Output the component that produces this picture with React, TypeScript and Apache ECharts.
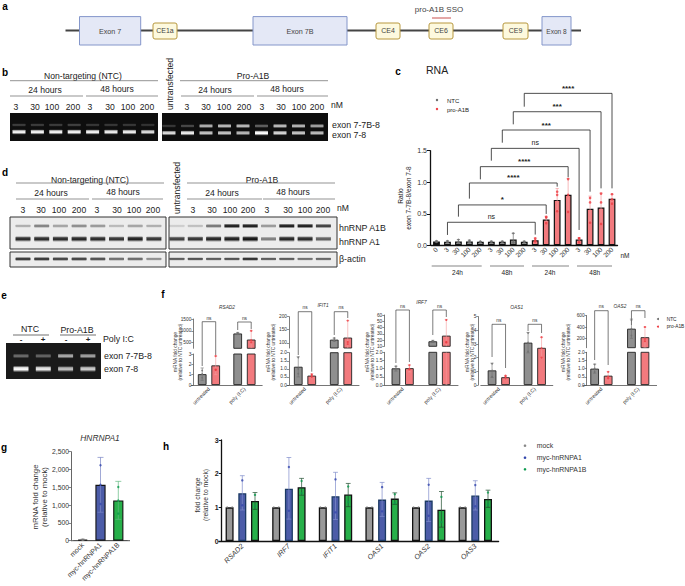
import React, { useEffect, useRef } from "react";
import * as echarts from "echarts";

const FONT = "'Liberation Sans', Arial, sans-serif";
const GRAY = "#8f8f8f", RED = "#f27a7e", REDDOT = "#ee3a40", REDERR = "#f49a9c", GRAYDOT = "#6f6f6f";
const BLUE = "#4c5ca8", GREEN = "#27b04a", BLUEDOT = "#3346ac", GREENDOT = "#0b9a4e";

/* ---------- panel b / d / e lanes ---------- */
const gelB1Upper = [0.2, 0.2, 0.2, 0.22, 0.18, 0.18, 0.18, 0.16];
const gelB1Lower = [0.95, 0.95, 0.95, 0.95, 0.95, 0.92, 0.92, 0.85];
const gelB2Upper = [0.18, 0.25, 0.68, 0.72, 0.72, 0.35, 0.72, 0.7, 0.62];
const gelB2Lower = [0.85, 0.92, 0.75, 0.75, 0.7, 1, 0.82, 0.75, 0.72];
const blotNtcA1B = [0.3, 0.5, 0.35, 0.45, 0.4, 0.25, 0.35, 0.3];
const blotNtcA1 = [0.9, 0.9, 0.9, 0.92, 0.9, 0.85, 0.95, 0.85];
const blotNtcActin = [0.85, 0.85, 0.8, 0.8, 0.75, 0.6, 0.62, 0.45];
const blotProA1B = [0.15, 0.22, 0.55, 0.95, 0.95, 0.4, 0.95, 0.95, 0.8];
const blotProA1 = [0.8, 0.85, 0.92, 0.95, 1, 0.5, 0.92, 0.9, 0.65];
const blotProActin = [0.7, 0.75, 0.7, 0.75, 0.9, 0.7, 0.7, 0.6, 0.65];
const gelEUpper = [0.35, 0.32, 0.62, 0.58];
const gelELower = [0.98, 0.9, 0.72, 0.78];

/* ---------- panel c ---------- */
const cCats = ["0", "3", "30", "100", "200", "3", "30", "100", "200", "3", "30", "100", "200", "3", "30", "100", "200"];
const cValues = [0.06, 0.055, 0.06, 0.06, 0.055, 0.055, 0.055, 0.09, 0.055, 0.08, 0.41, 0.72, 0.8, 0.09, 0.58, 0.6, 0.74];
const cHi = [0.07, 0.07, 0.09, 0.08, 0.06, 0.065, 0.065, 0.19, 0.065, 0.115, 0.46, 0.9, 1.06, 0.12, 0.78, 0.83, 0.81];
const cLo = [0.05, 0.045, 0.04, 0.045, 0.05, 0.05, 0.05, 0.04, 0.05, 0.05, 0.35, 0.55, 0.53, 0.05, 0.37, 0.35, 0.66];
const cPoints = [
  [0.06, 0.07, 0.05], [0.05, 0.06, 0.07], [0.09, 0.05, 0.04], [0.08, 0.05, 0.05], [0.05, 0.06, 0.06],
  [0.05, 0.06, 0.06], [0.05, 0.06, 0.06], [0.19, 0.05, 0.04], [0.05, 0.06, 0.06], [0.11, 0.08, 0.06],
  [0.45, 0.44, 0.35], [0.85, 0.8, 0.54], [1.05, 0.8, 0.53], [0.11, 0.11, 0.05], [0.75, 0.68, 0.36],
  [0.82, 0.68, 0.34], [0.81, 0.73, 0.66],
];
const cSigLabels = ["ns", "*", "****", "****", "ns", "***", "***", "****"];
const cBrackets = [
  [1, 9, 0.365, 0.164, 0.17], [2, 10, 0.64, 0.454, 0.497], [3, 11, 0.988, 0.74, 0.93], [4, 12, 1.247, 1.046, 1.078],
  [5, 13, 1.537, 1.342, 0.243], [6, 14, 1.828, 1.627, 0.85], [7, 15, 2.118, 1.918, 0.903], [8, 16, 2.409, 2.198, 0.903],
];

/* ---------- panel f (untreated, poly I:C) ---------- */
const fCats = ["untreated", "poly (I:C)"];
const fGenes = ["RSAD2", "IFIT1", "IRF7", "OAS1", "OAS2"];
const fNtc = [[1.05, 886], [1.13, 112], [1.02, 18], [1.07, 3.1], [1.0, 370]];
const fPro = [[1.9, 628], [0.58, 120], [1.03, 27], [0.57, 2.72], [0.57, 220]];
const fNtcHi = [[1.65, 930], [1.75, 118], [1.15, 19.5], [1.6, 3.85], [1.28, 540]];
const fProHi = [[2.8, 1000], [0.7, 185], [1.25, 53], [0.7, 3.5], [0.82, 400]];
const fNtcLo = [[0.45, 840], [0.5, 105], [0.85, 16], [0.55, 2.35], [0.72, 200]];
const fProLo = [[1.0, 260], [0.46, 55], [0.8, 0], [0.44, 1.95], [0.32, 40]];
const fNtcPts = [
  [[0.7, 1.05, 1.4], [920, 880, 860]], [[1.7, 1.0, 0.7], [118, 110, 108]], [[1.15, 1.0, 0.95], [19, 18, 17]],
  [[1.55, 1.05, 0.6], [3.8, 3.1, 2.45]], [[1.25, 1.0, 0.8], [520, 370, 250]],
];
const fProPts = [
  [[2.8, 1.5, 1.45], [1000, 600, 510]], [[0.66, 0.6, 0.5], [185, 103, 95]], [[1.2, 1.0, 0.95], [52, 16, 17]],
  [[0.68, 0.6, 0.48], [3.5, 2.7, 2.0]], [[0.8, 0.5, 0.4], [400, 190, 150]],
];
const fLowTicks = [[0, 1, 2, 3], [0, 0.5, 1, 1.5, 2], [0, 0.5, 1, 1.5, 2], [0, 1, 2, 3, 4, 5], [0, 0.5, 1, 1.5, 2]];
const fLowLabels = [["0", "1", "2", "3"], ["0.0", "0.5", "1.0", "1.5", "2.0"], ["0.0", "0.5", "1.0", "1.5", "2.0"], ["0", "1", "2", "3", "4", "5"], ["0.0", "0.5", "1.0", "1.5", "2.0"]];
const fHighTicks = [[500, 1000, 1500], [100, 150, 200], [10, 20, 30, 40, 50, 60], [], [200, 400, 600]];

/* ---------- panel g ---------- */
const gCats = ["mock", "myc-hnRNPA1", "myc-hnRNPA1B"];
const gValues = [30, 1570, 1130];
const gHi = [45, 2340, 1667];
const gLo = [15, 800, 600];
const gPoints = [[25, 35, 20], [2120, 1030, 1570], [1510, 760, 1130]];

/* ---------- panel h ---------- */
const hCats = ["RSAD2", "IRF7", "IFIT1", "OAS1", "OAS2", "OAS3"];
const hMock = [1, 1, 1, 1, 1, 1];
const hA1 = [1.42, 1.55, 1.33, 1.23, 1.2, 1.35];
const hA1B = [1.19, 1.6, 1.38, 1.26, 0.93, 1.25];
const hA1Hi = [1.94, 2.48, 2.04, 1.74, 1.86, 1.79];
const hA1Lo = [0.92, 0.65, 0.64, 0.73, 0.58, 0.92];
const hA1BHi = [1.44, 1.86, 1.71, 1.43, 1.47, 1.51];
const hA1BLo = [0.94, 1.36, 1.02, 1.09, 0.41, 1.0];
const hA1Pts = [[1.8, 1.06], [2.2, 0.9], [1.83, 0.85], [1.6, 0.88], [1.67, 0.75], [1.66, 1.03]];
const hA1BPts = [[1.37, 1.03], [1.78, 1.42], [1.62, 1.16], [1.39, 1.13], [1.31, 0.56], [1.44, 1.08]];

/* ---------- layout (pixels) ---------- */
const fLayout = [
  { left: 191.2, width: 71, axisX: 193.3, lowTop: 354, lowMax: 3, highTop: 319, highBottom: 348.3, highMin: 257, highMax: 1500, yl: 175.5, titleX: 227, titleY: 307.5, nsY: 318, br: [[321.7, 366, 355], [322, 330, 329]] },
  { left: 287, width: 72, axisX: 289, lowTop: 352.7, lowMax: 2, highTop: 316.7, highBottom: 348, highMin: 80, highMax: 200, yl: 268.5, titleX: 323, titleY: 305.5, nsY: 307.7, br: [[311.7, 355, 371.7], [311.7, 335, 318]] },
  { left: 384.2, width: 73.8, axisX: 384.3, lowTop: 352.3, lowMax: 2, highTop: 315, highBottom: 346.3, highMin: 10, highMax: 60, yl: 367.5, titleX: 421.5, titleY: 302, nsY: 306, br: [[310, 363, 362], [310, 335, 317]] },
  { left: 480.8, width: 72, axisX: 478.3, lowTop: 316.7, lowMax: 5, highTop: 0, highBottom: 0, highMin: 0, highMax: 0, yl: 467.5, titleX: 516.7, titleY: 307.5, nsY: 320, br: [[324.3, 357, 368], [324.3, 331, 333]] },
  { left: 583, width: 73.6, axisX: 586.7, lowTop: 352.3, lowMax: 2, highTop: 315.7, highBottom: 347.7, highMin: 34, highMax: 600, yl: 563.5, titleX: 620, titleY: 306, nsY: 306.7, br: [[310.7, 360, 365], [310.7, 325, 318]] },
];
const F_BOTTOM = 385;

export default function App() {
  const ref = useRef<HTMLDivElement>(null);
  useEffect(() => {
    const chart = echarts.init(ref.current!, undefined, { renderer: "svg" });
    const grid: any[] = [], xAxis: any[] = [], yAxis: any[] = [], series: any[] = [], g: any[] = [];

    const txt = (text: string, x: number, y: number, size: number, o: any = {}) => g.push({
      type: "text", x, y, rotation: o.rot || 0, silent: true,
      style: { text, fontFamily: FONT, fontSize: size, fontWeight: o.weight || "normal", fontStyle: o.italic ? "italic" : "normal", fill: o.fill || "#222", align: o.align || "center", verticalAlign: "middle" },
    });
    const hline = (x1: number, x2: number, y: number, color = "#555", lw = 0.8) => g.push({ type: "line", silent: true, shape: { x1, y1: y, x2, y2: y }, style: { stroke: color, lineWidth: lw } });
    const poly = (pts: number[][], color = "#222", lw = 0.8) => g.push({ type: "polyline", silent: true, shape: { points: pts }, style: { stroke: color, lineWidth: lw, fill: "none" } });

    /* lanes drawn through the library's scales */
    const addGel = (box: number[], laneStart: number, laneStep: number, rows: { pos: number; vals: number[]; h: number }[], color: string, bandW: number, bg: string, border: boolean) => {
      const [l, t, r, b] = box;
      const idx = grid.length;
      grid.push({ left: l, top: t, width: r - l, height: b - t, show: true, backgroundColor: bg, borderColor: "#333", borderWidth: border ? 1 : 0 });
      xAxis.push({ type: "value", gridIndex: idx, show: false, min: (l - laneStart) / laneStep, max: (r - laneStart) / laneStep, splitLine: { show: false } });
      yAxis.push({ type: "value", gridIndex: idx, show: false, inverse: true, min: t, max: b, splitLine: { show: false } });
      rows.forEach((row) => {
        const rgba = color;
        series.push({
          type: "custom", xAxisIndex: idx, yAxisIndex: idx, silent: true, clip: true,
          data: row.vals.map((v, i) => [i, row.pos, v]),
          renderItem: (_: any, api: any) => {
            const c = api.coord([api.value(0), api.value(1)]);
            const v = api.value(2);
            const h = row.h * (0.7 + 0.4 * v);
            return {
              type: "rect", shape: { x: c[0] - bandW / 2, y: c[1] - h / 2, width: bandW, height: h, r: 1 },
              style: {
                opacity: v,
                fill: new echarts.graphic.LinearGradient(0, 0, 0, 1, [
                  { offset: 0, color: rgba + "00" }, { offset: 0.3, color: rgba + "ee" }, { offset: 0.6, color: rgba + "ff" }, { offset: 1, color: rgba + "00" },
                ]),
              },
            };
          },
        });
      });
    };

    const errSeries = (i: number, items: number[][], color: string, offset = 0, cap = 2, clip = false, lw = 0.7) => series.push({
      type: "custom", xAxisIndex: i, yAxisIndex: i, silent: true, clip, z: 4, data: items,
      renderItem: (_: any, api: any) => {
        const a = api.coord([api.value(0), api.value(1)]);
        const b = api.coord([api.value(0), api.value(2)]);
        const x = a[0] + offset;
        const st = { stroke: color, lineWidth: lw };
        return {
          type: "group", children: [
            { type: "line", shape: { x1: x, y1: a[1], x2: x, y2: b[1] }, style: st },
            { type: "line", shape: { x1: x - cap, y1: a[1], x2: x + cap, y2: a[1] }, style: st },
            { type: "line", shape: { x1: x - cap, y1: b[1], x2: x + cap, y2: b[1] }, style: st },
          ],
        };
      },
    });
    const dots = (i: number, items: number[][], color: string, offset = 0, size = 2.6) => series.push({
      type: "scatter", xAxisIndex: i, yAxisIndex: i, silent: true, z: 5, symbolSize: size, symbolOffset: [offset, 0], itemStyle: { color }, data: items,
    });
    const toPts = (pts: number[][]) => pts.flatMap((p, i) => p.map((v) => [i, v]));

    /* ---- a : gene model ---- */
    txt("a", 5, 6, 10, { weight: "bold", fill: "#000" });
    hline(65.5, 581, 30.6, "#444", 2);
    [["Exon 7", 79.5, 140.7], ["Exon 7B", 253, 347], ["Exon 8", 542, 571]].forEach(([s, a, b]: any) => {
      g.push({ type: "rect", silent: true, shape: { x: a, y: 16.6, width: b - a, height: 28.4 }, style: { fill: "#e4e8f6", stroke: "#8496ca", lineWidth: 1 } });
      txt(s, (a + b) / 2, 31, s === "Exon 8" ? 6.6 : 7.2, { fill: "#444" });
    });
    [["CE1a", 153, 177], ["CE4", 376, 400], ["CE6", 429, 453], ["CE9", 503, 528]].forEach(([s, a, b]: any) => {
      g.push({ type: "rect", silent: true, shape: { x: a, y: 23, width: b - a, height: 16, r: 2 }, style: { fill: "#fdf9de", stroke: "#b8983f", lineWidth: 1 } });
      txt(s, (a + b) / 2, 30, 7, { fill: "#444" });
    });
    txt("pro-A1B SSO", 439, 9, 8, { fill: "#444" });
    hline(432, 451, 18, "#c8504f", 1);

    /* ---- b ---- */
    txt("b", 5, 72, 10, { weight: "bold", fill: "#000" });
    const lab = (s: string, x: number, y: number) => txt(s, x, y, 8.6, { fill: "#222" });
    const header = (cx: number, y: number, x1: number, x2: number, ly: number, s: string) => { lab(s, cx, y); hline(x1, x2, ly, "#666", 0.7); };
    header(83, 76, 10, 158, 80.7, "Non-targeting (NTC)");
    header(45, 90, 10, 83, 96, "24 hours");
    header(117, 89, 86, 158, 96, "48 hours");
    header(253, 76, 180, 328, 80.7, "Pro-A1B");
    header(215, 90, 181, 254, 96, "24 hours");
    header(287, 89, 257, 328, 96, "48 hours");
    const nm = ["3", "30", "100", "200", "3", "30", "100", "200"];
    [16, 35, 52, 73, 90, 110, 128, 147].forEach((x, i) => lab(nm[i], x, 107));
    [187, 206, 224, 244, 262, 281, 299, 317].forEach((x, i) => lab(nm[i], x, 107));
    lab("nM", 337, 105);
    txt("untransfected", 170, 110, 8.6, { rot: Math.PI / 2, align: "left" });
    txt("exon 7-7B-8", 332, 125, 8.8, { align: "left" });
    txt("exon 7-8", 332, 135, 8.8, { align: "left" });
    addGel([10, 113, 158, 141], 19, 18.4, [{ pos: 125, vals: gelB1Upper, h: 4.5 }, { pos: 132, vals: gelB1Lower, h: 5 }], "#ffffff", 13, "#0e0e0e", false);
    addGel([162, 113, 328, 141], 169, 18.5, [{ pos: 126, vals: gelB2Upper, h: 4.5 }, { pos: 133, vals: gelB2Lower, h: 5 }], "#ffffff", 13, "#0e0e0e", false);

    /* ---- d ---- */
    txt("d", 5, 172, 10, { weight: "bold", fill: "#000" });
    header(90, 180, 16, 164, 183, "Non-targeting (NTC)");
    header(51, 193, 16, 89, 199, "24 hours");
    header(123, 192, 92, 163, 199, "48 hours");
    header(262, 180, 187, 335, 183, "Pro-A1B");
    header(222, 193, 187, 262, 199, "24 hours");
    header(293, 192, 263, 335, 199, "48 hours");
    [23, 41, 59, 79, 97, 117, 134, 153].forEach((x, i) => lab(nm[i], x, 210));
    [193, 212, 230, 248, 267, 288, 305, 323].forEach((x, i) => lab(nm[i], x, 210));
    lab("nM", 343, 208);
    txt("untransfected", 177, 214, 8.6, { rot: Math.PI / 2, align: "left" });
    txt("hnRNP A1B", 339, 228, 8.8, { align: "left" });
    txt("hnRNP A1", 339, 242, 8.8, { align: "left" });
    txt("β-actin", 339, 259, 8.8, { align: "left" });
    addGel([10, 217, 166, 249], 23, 18.7, [{ pos: 226, vals: blotNtcA1B, h: 4.5 }, { pos: 239, vals: blotNtcA1, h: 5.5 }], "#151515", 15, "#ececec", true);
    addGel([10, 252, 166, 267], 23, 18.7, [{ pos: 259, vals: blotNtcActin, h: 4 }], "#151515", 15, "#ececec", true);
    addGel([169, 217, 337, 249], 177, 18.3, [{ pos: 226, vals: blotProA1B, h: 4.5 }, { pos: 239, vals: blotProA1, h: 5.5 }], "#151515", 15, "#ececec", true);
    addGel([169, 252, 337, 267], 177, 18.3, [{ pos: 259, vals: blotProActin, h: 3.6 }], "#151515", 15, "#ececec", true);

    /* ---- e ---- */
    txt("e", 4, 295, 10, { weight: "bold", fill: "#000" });
    txt("f", 163, 294, 10, { weight: "bold", fill: "#000" });
    txt("NTC", 30, 329, 8.8); hline(13, 49, 335, "#333", 0.7);
    txt("Pro-A1B", 77, 330, 8.8); hline(60, 96, 335, "#333", 0.7);
    [["-", 21], ["+", 43], ["-", 66], ["+", 88]].forEach(([s, x]: any) => txt(s, x, 339, 8, { weight: "bold" }));
    txt("Poly I:C", 103, 339, 8.8, { align: "left" });
    txt("exon 7-7B-8", 104, 356, 8.8, { align: "left" });
    txt("exon 7-8", 104, 369, 8.8, { align: "left" });
    addGel([6, 343, 101, 379], 21, 22.3, [{ pos: 356, vals: gelEUpper, h: 5.5 }, { pos: 369, vals: gelELower, h: 6 }], "#ffffff", 15, "#1a1a1a", false);

    /* ---- c ---- */
    txt("c", 398, 71, 10, { weight: "bold", fill: "#000" });
    txt("RNA", 426, 70, 10.5, { align: "left" });
    g.push({ type: "circle", silent: true, shape: { cx: 437, cy: 100, r: 1.2 }, style: { fill: "#666" } });
    g.push({ type: "circle", silent: true, shape: { cx: 437, cy: 109, r: 1.2 }, style: { fill: REDDOT } });
    txt("NTC", 447, 100.5, 6, { align: "left" });
    txt("pro-A1B", 447, 109.5, 6, { align: "left" });
    txt("Ratio", 400, 196, 6.6, { rot: Math.PI / 2 });
    txt("exon 7-7B-8/exon 7-8", 408.5, 198, 6.6, { rot: Math.PI / 2 });
    const ci = grid.length;
    grid.push({ left: 431, top: 150.7, width: 186.5, height: 94.6 });
    xAxis.push({
      type: "category", gridIndex: ci, data: cCats,
      axisLine: { lineStyle: { color: "#111", width: 1.3 } }, axisTick: { alignWithLabel: true, length: 2, lineStyle: { color: "#111", width: 0.8 } },
      axisLabel: { interval: 0, rotate: 45, fontSize: 6.6, margin: 3, color: "#333", fontFamily: FONT },
    });
    yAxis.push({
      type: "value", gridIndex: ci, min: 0, max: 1.5, interval: 0.5, offset: 1, splitLine: { show: false },
      axisLine: { show: true, lineStyle: { color: "#111", width: 1.3 } }, axisTick: { show: true, length: 3, lineStyle: { color: "#111", width: 1 } },
      axisLabel: { fontSize: 7, margin: 3, color: "#333", fontFamily: FONT, formatter: (v: number) => v.toFixed(1) },
    });
    series.push({
      type: "bar", xAxisIndex: ci, yAxisIndex: ci, barWidth: 6.8, silent: true,
      data: cValues.map((v, i) => ({ value: v, itemStyle: { color: i === 0 ? "#111" : i < 9 ? GRAY : RED } })),
      itemStyle: { borderColor: "#111", borderWidth: 1.2 },
    });
    const cErr = cValues.map((_, i) => [i, cLo[i], cHi[i]]);
    errSeries(ci, cErr.slice(0, 9), GRAYDOT, 0, 1.6);
    errSeries(ci, cErr.slice(9), REDERR, 0, 1.6);
    const cDots = toPts(cPoints);
    dots(ci, cDots.filter((d) => d[0] < 9), GRAYDOT, 0, 2.2);
    dots(ci, cDots.filter((d) => d[0] >= 9), REDDOT, 0, 2.6);
    series.push({
      type: "custom", xAxisIndex: ci, yAxisIndex: ci, silent: true, z: 3, data: cBrackets,
      renderItem: (p: any, api: any) => {
        const a = api.value(0), b = api.value(1);
        const top = api.coord([a, api.value(2)])[1];
        const xa = api.coord([a, 0])[0], xb = api.coord([b, 0])[0];
        const la = api.coord([a, api.value(3)])[1], lb = api.coord([b, api.value(4)])[1];
        const label = cSigLabels[p.dataIndex];
        return {
          type: "group", children: [
            { type: "polyline", shape: { points: [[xa, la], [xa, top], [xb, top], [xb, lb]] }, style: { stroke: "#222", lineWidth: 0.8, fill: "none" } },
            { type: "text", style: { text: label, x: (xa + xb) / 2, y: top - (label === "ns" ? 6 : 5), align: "center", verticalAlign: "middle", fontSize: label === "ns" ? 7 : 8, fontFamily: FONT, fontWeight: label === "ns" ? "normal" : "bold", fill: "#222" } },
          ],
        };
      },
    });
    txt("nM", 625, 255, 6.5);
    hline(431.7, 481.7, 266, "#333", 0.6); txt("24h", 457.5, 272, 6.5);
    hline(490, 524, 266, "#333", 0.6); txt("48h", 507, 272, 6.5);
    hline(532, 569, 266, "#333", 0.6); txt("24h", 550, 272, 6.5);
    hline(577, 612, 266, "#333", 0.6); txt("48h", 594.7, 272, 6.5);

    /* ---- f ---- */
    const BW = 8.7, SEP = 13.5, GAP = `${((SEP - BW) / BW) * 100}%`;
    const fBars = (i: number, k: number) => {
      const st = (color: string) => ({ color, borderColor: "#222", borderWidth: 0.9 });
      series.push({ type: "bar", xAxisIndex: i, yAxisIndex: i, barWidth: BW, barGap: GAP, silent: true, itemStyle: st(GRAY), data: fNtc[k] });
      series.push({ type: "bar", xAxisIndex: i, yAxisIndex: i, barWidth: BW, barGap: GAP, silent: true, itemStyle: st(RED), data: fPro[k] });
      errSeries(i, fNtc[k].map((_, c) => [c, fNtcLo[k][c], fNtcHi[k][c]]), GRAYDOT, -SEP / 2, 1.6, true, 0.6);
      errSeries(i, fPro[k].map((_, c) => [c, fProLo[k][c], fProHi[k][c]]), REDERR, SEP / 2, 1.6, true, 0.6);
      dots(i, toPts(fNtcPts[k]), GRAYDOT, -SEP / 2, 1.8);
      dots(i, toPts(fProPts[k]), REDDOT, SEP / 2, 2.2);
    };
    const yStyle = (ticks: number[], labels: (string | number)[], off: number) => ({
      offset: off, splitLine: { show: false },
      axisLine: { show: true, lineStyle: { color: "#444", width: 0.7 } },
      axisTick: { show: true, length: 2, customValues: ticks, lineStyle: { color: "#444", width: 0.6 } },
      axisLabel: { fontSize: 4.8, margin: 2, color: "#333", fontFamily: FONT, customValues: ticks, formatter: (v: number) => { const n = ticks.indexOf(v); return String(n >= 0 ? labels[n] : v); } },
    });
    fGenes.forEach((gene, k) => {
      const L = fLayout[k];
      const off = L.left - L.axisX;
      const low = grid.length;
      grid.push({ left: L.left, top: L.lowTop, width: L.width, height: F_BOTTOM - L.lowTop });
      xAxis.push({
        type: "category", gridIndex: low, data: fCats,
        axisLine: { lineStyle: { color: "#666", width: 0.9 } }, axisTick: { alignWithLabel: true, length: 2, lineStyle: { color: "#333", width: 0.6 } },
        axisLabel: { interval: 0, rotate: 45, fontSize: 5.2, margin: 3, color: "#333", fontFamily: FONT },
      });
      yAxis.push({ type: "value", gridIndex: low, min: 0, max: L.lowMax, ...yStyle(fLowTicks[k], fLowLabels[k], off) });
      fBars(low, k);
      if (L.highMax) {
        const hi = grid.length;
        grid.push({ left: L.left, top: L.highTop, width: L.width, height: L.highBottom - L.highTop });
        xAxis.push({ type: "category", gridIndex: hi, data: fCats, axisLine: { show: false }, axisTick: { show: false }, axisLabel: { show: false } });
        yAxis.push({ type: "value", gridIndex: hi, min: L.highMin, max: L.highMax, ...yStyle(fHighTicks[k], fHighTicks[k], off) });
        fBars(hi, k);
      }
      txt(gene, L.titleX, L.titleY, 4.8, { italic: true, fill: "#333" });
      txt("mRNA fold change", L.yl, 352, 4.8, { rot: Math.PI / 2, fill: "#333" });
      txt("(relative to NTC untreated)", L.yl + 5, 352, 4.8, { rot: Math.PI / 2, fill: "#333" });
      const step = L.width / 2;
      [0, 1].forEach((c) => {
        const mid = L.left + step * (c + 0.5);
        const [top, lb, rb] = L.br[c];
        const xa = mid - SEP / 2, xb = mid + SEP / 2;
        poly([[xa, lb], [xa, top], [xb, top], [xb, rb]], "#222", 0.6);
        txt("ns", mid, L.nsY, 4.8, { fill: "#333" });
      });
    });
    g.push({ type: "circle", silent: true, shape: { cx: 658, cy: 319, r: 1 }, style: { fill: "#666" } });
    g.push({ type: "circle", silent: true, shape: { cx: 658, cy: 326.7, r: 1 }, style: { fill: REDDOT } });
    txt("NTC", 666.7, 319, 4.8, { align: "left" });
    txt("pro-A1B", 666.7, 326.7, 4.8, { align: "left" });

    /* ---- g ---- */
    txt("g", 4, 447, 10, { weight: "bold", fill: "#000" });
    txt("HNRNPA1", 100, 438, 8.4, { italic: true, fill: "#333" });
    txt("mRNA fold change", 35, 497, 7.8, { rot: Math.PI / 2, fill: "#333" });
    txt("(relative to mock)", 44, 497, 7.8, { rot: Math.PI / 2, fill: "#333" });
    const gi = grid.length;
    grid.push({ left: 73.8, top: 451.7, width: 53.4, height: 89 });
    hline(71, 130, 540.7, "#555", 1);
    xAxis.push({
      type: "category", gridIndex: gi, data: gCats,
      axisLine: { lineStyle: { color: "#555", width: 1 } }, axisTick: { alignWithLabel: true, length: 2.5, lineStyle: { color: "#333", width: 0.7 } },
      axisLabel: { interval: 0, rotate: 45, fontSize: 7, margin: 3, color: "#333", fontFamily: FONT },
    });
    yAxis.push({
      type: "value", gridIndex: gi, min: 0, max: 2500, interval: 500, offset: 2.8, splitLine: { show: false },
      axisLine: { show: true, lineStyle: { color: "#666", width: 1 } }, axisTick: { show: true, length: 2.5, lineStyle: { color: "#666", width: 0.8 } },
      axisLabel: { fontSize: 6.8, margin: 2, color: "#333", fontFamily: FONT },
    });
    series.push({
      type: "bar", xAxisIndex: gi, yAxisIndex: gi, barWidth: 10.2, silent: true, itemStyle: { borderColor: "#111", borderWidth: 1.1 },
      data: gValues.map((v, i) => ({ value: v, itemStyle: { color: ["#999999", BLUE, GREEN][i] } })),
    });
    errSeries(gi, [[0, gLo[0], gHi[0]]], "#777", 0, 2);
    errSeries(gi, [[1, gLo[1], gHi[1]]], "#7884c4", 0, 3);
    errSeries(gi, [[2, gLo[2], gHi[2]]], "#62b97f", 0, 3);
    const gDots = toPts(gPoints);
    dots(gi, gDots.filter((d) => d[0] === 0), "#777", 0, 1.8);
    dots(gi, gDots.filter((d) => d[0] === 1), BLUEDOT, 0, 2.4);
    dots(gi, gDots.filter((d) => d[0] === 2), GREENDOT, 0, 2.4);

    /* ---- h ---- */
    txt("h", 166, 446, 10, { weight: "bold", fill: "#000" });
    txt("fold change", 197.7, 495, 6.8, { rot: Math.PI / 2, fill: "#333" });
    txt("(relative to mock)", 205, 495, 6.8, { rot: Math.PI / 2, fill: "#333" });
    const hi = grid.length;
    grid.push({ left: 219, top: 440, width: 279.6, height: 101 });
    xAxis.push({
      type: "category", gridIndex: hi, data: hCats,
      axisLine: { lineStyle: { color: "#111", width: 1.3 } }, axisTick: { alignWithLabel: true, length: 3, lineStyle: { color: "#111", width: 0.9 } },
      axisLabel: { interval: 0, rotate: 45, fontSize: 7.2, margin: 4, color: "#333", fontFamily: FONT, fontStyle: "italic" },
    });
    yAxis.push({
      type: "value", gridIndex: hi, min: 0, max: 3, interval: 1, offset: -2.7, splitLine: { show: false },
      axisLine: { show: true, lineStyle: { color: "#111", width: 1.3 } }, axisTick: { show: true, length: 3, lineStyle: { color: "#111", width: 1 } },
      axisLabel: { fontSize: 7, margin: 3, color: "#222", fontWeight: "bold", fontFamily: FONT },
    });
    const HW = 8, HSEP = 12.7, HGAP = `${((HSEP - HW) / HW) * 100}%`;
    [[hMock, "#999999", "#111"], [hA1, BLUE, "#1c3a64"], [hA1B, GREEN, "#111"]].forEach(([d, c, b]: any) => series.push({
      type: "bar", xAxisIndex: hi, yAxisIndex: hi, barWidth: HW, barGap: HGAP, silent: true,
      itemStyle: { color: c, borderColor: b, borderWidth: 1.3 }, data: d,
    }));
    errSeries(hi, hA1.map((_, i) => [i, hA1Lo[i], hA1Hi[i]]), "#7f8ccb", 0, 2.4);
    errSeries(hi, hA1B.map((_, i) => [i, hA1BLo[i], hA1BHi[i]]), "#1f4d2e", HSEP, 2.4);
    dots(hi, toPts(hA1Pts), BLUEDOT, 0, 2.4);
    dots(hi, toPts(hA1BPts), GREENDOT, HSEP, 2.4);
    const hMockPts = hMock.map((v, i) => [i, v]);
    dots(hi, hMockPts, "#777", -HSEP - 2.5, 1.8);
    dots(hi, hMockPts, "#777", -HSEP + 2.5, 1.8);
    [["mock", "#888", 445.7], ["myc-hnRNPA1", BLUEDOT, 457.7], ["myc-hnRNPA1B", GREENDOT, 469.3]].forEach(([s, c, y]: any) => {
      g.push({ type: "circle", silent: true, shape: { cx: 525, cy: y, r: 1.3 }, style: { fill: c } });
      txt(s, 536.7, y, 6.9, { align: "left", fill: "#333" });
    });

    chart.setOption({ animation: false, backgroundColor: "#ffffff", grid, xAxis, yAxis, series, graphic: { elements: g } });
    return () => chart.dispose();
  }, []);
  return <div ref={ref} style={{ position: "absolute", left: 0, top: 0, width: 685, height: 586 }} />;
}
